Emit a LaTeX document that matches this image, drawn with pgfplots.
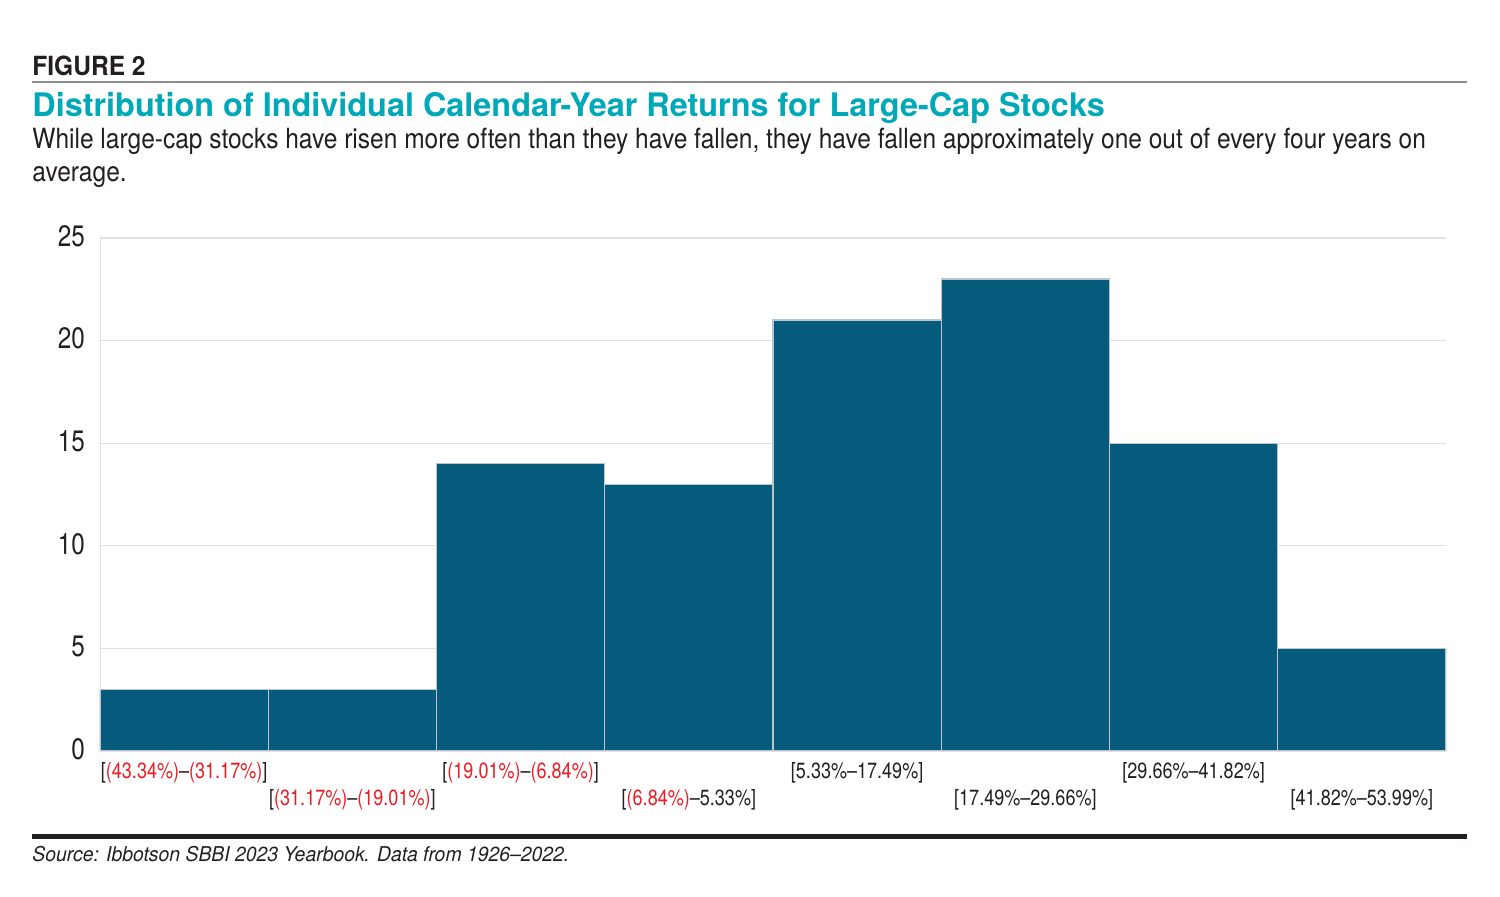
\documentclass[border=0pt]{standalone}
\usepackage{pgfplots}
\pgfplotsset{compat=1.18}
\usepackage{fontspec}
\setmainfont{TeX Gyre Heros}[FakeStretch=0.82]
\newfontfamily\figfont{TeX Gyre Heros}[FakeStretch=0.93]
\newfontfamily\titlefont{TeX Gyre Heros}
\newfontfamily\subfont{TeX Gyre Heros}[FakeStretch=0.882]
\newfontfamily\srcfont{TeX Gyre Heros}[FakeStretch=0.95]
\definecolor{barc}{HTML}{065A7C}
\definecolor{teal}{HTML}{00A8B8}
\definecolor{negred}{HTML}{ED1C24}
\definecolor{ink}{HTML}{231F20}
\definecolor{edge}{HTML}{B8C6D0}
\newcommand{\rd}[1]{\textcolor{negred}{#1}}
\begin{document}
\begin{tikzpicture}[x=1pt,y=1pt]
\path[use as bounding box] (0,0) rectangle (750,448.5);
\node[anchor=base west,inner sep=0,text=ink,font=\figfont\fontsize{13.2}{15}\selectfont\bfseries] at (16,410.5) {FIGURE 2};
\draw[color=black!45,line width=0.7pt] (16,407.5) -- (733.5,407.5);
\node[anchor=base west,inner sep=0,text=teal,font=\titlefont\fontsize{16.2}{19}\selectfont\bfseries] at (16,390) {Distribution of Individual Calendar-Year Returns for Large-Cap Stocks};
\node[anchor=base west,inner sep=0,text=ink,font=\subfont\fontsize{13.9}{16}\selectfont] at (16,374) {While large-cap stocks have risen more often than they have fallen, they have fallen approximately one out of every four years on};
\node[anchor=base west,inner sep=0,text=ink,font=\subfont\fontsize{13.9}{16}\selectfont] at (16,357.5) {average.};
\begin{axis}[
  at={(50pt,73pt)}, anchor=origin,
  scale only axis, width=673pt, height=256.5pt,
  xmin=0, xmax=8, ymin=0, ymax=25,
  axis line style={draw=none},
  major tick length=0pt,
  ytick={0,5,10,15,20,25},
  ymajorgrids, grid style={color=black!12,line width=0.6pt},
  yticklabel style={font=\fontsize{14.8}{17}\selectfont,text=ink,anchor=east,xshift=-4pt,yshift=1pt},
  /pgf/number format/assume math mode=true,
  xtick={0.5,2.5,4.5,6.5},
  xticklabels={{[\rd{(43.34\%)}–\rd{(31.17\%)}]},{[\rd{(19.01\%)}–\rd{(6.84\%)}]},{[5.33\%–17.49\%]},{[29.66\%–41.82\%]}},
  extra x ticks={1.5,3.5,5.5,7.5},
  extra x tick labels={{[\rd{(31.17\%)}–\rd{(19.01\%)}]},{[\rd{(6.84\%)}–5.33\%]},{[17.49\%–29.66\%]},{[41.82\%–53.99\%]}},
  xticklabel style={font=\fontsize{11}{13}\selectfont,text=ink,anchor=base,yshift=-14pt},
  extra x tick style={xticklabel style={yshift=-13.5pt}, grid=none},
]
\draw[color=black!12,line width=0.6pt] (axis cs:0,0) -- (axis cs:0,25);
\addplot[ybar, bar width=1, bar shift=0, fill=barc, draw=edge, line width=0.6pt]
  coordinates {(0.5,3) (1.5,3) (2.5,14) (3.5,13) (4.5,21) (5.5,23) (6.5,15) (7.5,5)};
\end{axis}
\draw[color=ink,line width=2.5pt] (16,30) -- (733.5,30);
\node[anchor=base west,inner sep=0,text=ink,font=\srcfont\fontsize{10.2}{12}\selectfont\itshape] at (16,17.5) {Source: Ibbotson SBBI 2023 Yearbook. Data from 1926–2022.};
\end{tikzpicture}
\end{document}
